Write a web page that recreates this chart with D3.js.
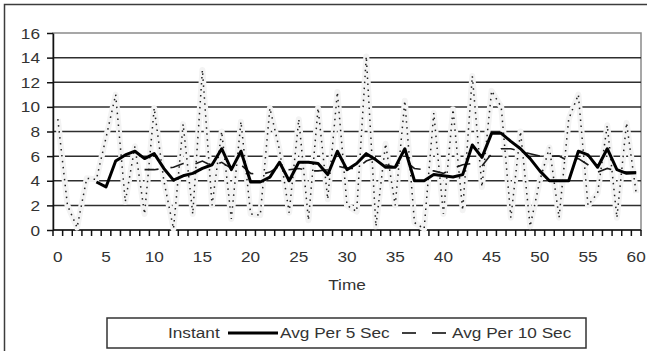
<!DOCTYPE html>
<html>
<head>
<meta charset="utf-8">
<script src="https://cdn.jsdelivr.net/npm/d3@7"></script>
<style>
  body { margin: 0; background: #fff; }
  text { font-family: "Liberation Sans", Arial, sans-serif; fill: #333; }
</style>
</head>
<body>
<div id="chart"></div>
<script>
// values, one per second
const times = d3.range(0, 61);
const xTickLabels = [0, 5, 10, 15, 20, 25, 30, 35, 40, 45, 50, 55, 60];
const yTicks = [0, 2, 4, 6, 8, 10, 12, 14, 16];

const instant = [9.0, 2.0, 0.2, 4.2, 4.1, 7.5, 11.0, 2.3, 6.8, 1.3,
  9.9, 4.0, 0.1, 8.6, 1.3, 13.0, 2.0, 8.0, 0.9, 8.8,
  1.3, 1.2, 9.9, 6.5, 1.4, 9.0, 0.8, 9.9, 2.5, 11.2,
  2.0, 1.5, 14.1, 0.3, 7.0, 2.0, 10.5, 0.6, 0.1, 9.5,
  1.3, 9.8, 1.6, 12.5, 3.5, 11.3, 10.0, 1.0, 8.0, 0.3,
  4.0, 6.7, 1.0, 9.0, 11.0, 2.0, 3.0, 8.5, 1.0, 8.7, 3.0];

const avg5 = [null, null, null, null,
  3.9, 3.5, 5.6, 6.1, 6.4, 5.8, 6.2, 5.0, 4.05, 4.4,
  4.6, 5.0, 5.3, 6.6, 4.9, 6.4, 3.9, 3.9, 4.3, 5.5,
  4.0, 5.5, 5.5, 5.4, 4.5, 6.4, 4.9, 5.4, 6.2, 5.7,
  5.1, 5.1, 6.6, 4.0, 4.0, 4.5, 4.4, 4.3, 4.5, 6.9,
  5.9, 7.85, 7.85, 7.2, 6.6, 5.8, 4.8, 4.0, 4.0, 4.0,
  6.4, 6.1, 5.1, 6.6, 4.9, 4.6, 4.65];

const avg10 = [null, null, null, null, null, null, null, null, null,
  4.9, 4.9, 5.0, 5.1, 5.4, 5.3, 5.6, 5.2, 5.5, 5.0,
  5.3, 4.6, 4.5, 4.7, 5.2, 4.9, 5.0, 4.8, 4.8, 4.9,
  5.2, 5.0, 5.0, 5.6, 5.9, 5.3, 5.1, 5.6, 5.0, 4.9,
  4.8, 4.6, 5.0, 5.3, 5.4, 5.2, 6.2, 6.6, 6.6, 6.4,
  6.2, 6.0, 6.0, 6.0, 5.6, 5.8, 5.3, 4.7, 5.0, 4.8,
  4.7, 4.7];

const W = 647, H = 351;
const plot = { left: 53, right: 641, top: 33, bottom: 230 };
const SX = 1.23; // the text in the picture is stretched sideways

const svg = d3.select('#chart').append('svg')
    .attr('width', W)
    .attr('height', H);

// outer chart frame (right and bottom edges fall outside the picture)
svg.append('rect')
    .attr('x', 4.5).attr('y', 4.5)
    .attr('width', 700).attr('height', 400)
    .attr('fill', '#fff')
    .attr('stroke', '#3c3c3c')
    .attr('stroke-width', 1.5);

const x = d3.scaleBand()
    .domain(times)
    .range([plot.left, plot.right]);
const xc = i => x(i) + x.bandwidth() / 2;

const y = d3.scaleLinear()
    .domain([0, 16])
    .range([plot.bottom, plot.top]);

// plot area border
svg.append('rect')
    .attr('x', plot.left).attr('y', plot.top)
    .attr('width', plot.right - plot.left)
    .attr('height', plot.bottom - plot.top)
    .attr('fill', '#fff')
    .attr('stroke', '#8a8a8a')
    .attr('stroke-width', 1.5);

// gridlines
svg.append('g')
    .selectAll('line')
    .data(yTicks.filter(v => v > 0 && v < 16))
    .enter()
    .append('line')
    .attr('x1', plot.left).attr('x2', plot.right)
    .attr('y1', d => y(d)).attr('y2', d => y(d))
    .attr('stroke', '#2e2e2e')
    .attr('stroke-width', 1.5);

// y axis
const yAxis = svg.append('g')
    .attr('transform', `translate(${plot.left},0)`)
    .call(d3.axisLeft(y).tickValues(yTicks).tickSize(6).tickSizeOuter(0));
yAxis.select('.domain').attr('stroke', '#111').attr('stroke-width', 1.5);
yAxis.selectAll('.tick line').attr('stroke', '#111').attr('stroke-width', 1.5);
yAxis.selectAll('.tick text')
    .attr('x', -13 / SX)
    .attr('dy', '0.36em')
    .attr('font-size', 14)
    .attr('transform', `scale(${SX},1)`);

// x axis: ticks on category boundaries, labels every 5 s
const xAxis = svg.append('g')
    .attr('transform', `translate(0,${plot.bottom})`);
xAxis.append('line')
    .attr('x1', plot.left).attr('x2', plot.right)
    .attr('stroke', '#111').attr('stroke-width', 1.5);
xAxis.selectAll('.btick')
    .data(times.concat([times.length]))
    .enter()
    .append('line')
    .attr('class', 'btick')
    .attr('x1', i => plot.left + i * x.step())
    .attr('x2', i => plot.left + i * x.step())
    .attr('y1', 0).attr('y2', 6)
    .attr('stroke', '#111').attr('stroke-width', 1.5);
xAxis.selectAll('.xlabel')
    .data(xTickLabels)
    .enter()
    .append('text')
    .attr('class', 'xlabel')
    .attr('transform', d => `translate(${xc(d)},32) scale(${SX},1)`)
    .attr('text-anchor', 'middle')
    .attr('font-size', 14)
    .text(d => d);

svg.append('text')
    .attr('transform', `translate(${(plot.left + plot.right) / 2},290) scale(${SX},1)`)
    .attr('text-anchor', 'middle')
    .attr('font-size', 14)
    .text('Time');

const line = d3.line()
    .defined(d => d != null)
    .x((d, i) => xc(times[i]))
    .y(d => y(d));

// faint halo the jpeg left round the dotted line
svg.append('path')
    .datum(instant)
    .attr('d', line)
    .attr('fill', 'none')
    .attr('stroke', '#f3f3f3')
    .attr('stroke-width', 6)
    .attr('stroke-linejoin', 'round');

svg.append('path')
    .datum(instant)
    .attr('d', line)
    .attr('fill', 'none')
    .attr('stroke', '#222')
    .attr('stroke-width', 1.5)
    .attr('stroke-dasharray', '1.5,4.5');

svg.append('path')
    .datum(avg10)
    .attr('d', line)
    .attr('fill', 'none')
    .attr('stroke', '#1a1a1a')
    .attr('stroke-width', 1.6)
    .attr('stroke-dasharray', '14,12');

svg.append('path')
    .datum(avg5)
    .attr('d', line)
    .attr('fill', 'none')
    .attr('stroke', '#000')
    .attr('stroke-width', 3)
    .attr('stroke-linejoin', 'round');

// legend
const legend = svg.append('g');
legend.append('rect')
    .attr('x', 107).attr('y', 318)
    .attr('width', 479).attr('height', 30)
    .attr('fill', '#fff')
    .attr('stroke', '#333')
    .attr('stroke-width', 1.5);

const items = [
  { label: 'Instant', tx: 168 },
  { label: 'Avg Per 5 Sec', tx: 280, x1: 228, x2: 278, width: 3, dash: null },
  { label: 'Avg Per 10 Sec', tx: 452, x1: 402, x2: 448, width: 1.6, dash: '14,16' }
];
items.forEach(it => {
  if (it.x1) {
    legend.append('line')
        .attr('x1', it.x1).attr('x2', it.x2)
        .attr('y1', 333).attr('y2', 333)
        .attr('stroke', '#000')
        .attr('stroke-width', it.width)
        .attr('stroke-dasharray', it.dash);
  }
  legend.append('text')
      .attr('transform', `translate(${it.tx},338) scale(${SX},1)`)
      .attr('font-size', 14)
      .text(it.label);
});
</script>
</body>
</html>
